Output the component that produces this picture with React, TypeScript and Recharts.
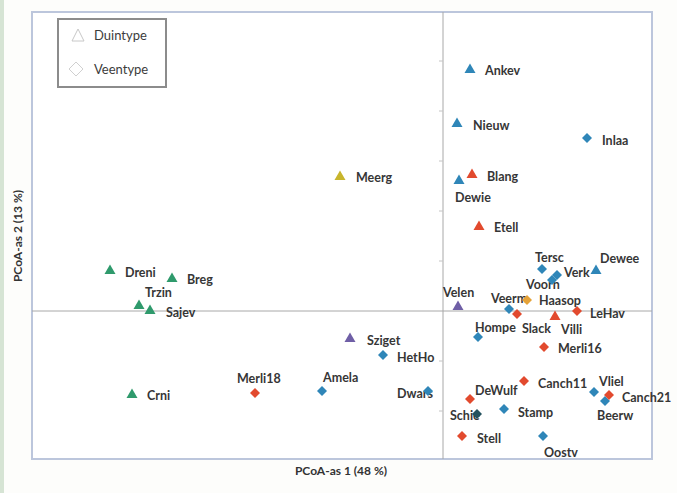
import React from "react";
import { ScatterChart, Scatter, XAxis, YAxis, ReferenceLine, ReferenceArea } from "recharts";

type Pt = { name: string; x: number; y: number };

// Duintype (triangles)
const duinGreen: Pt[] = [
  { name: "Dreni", x: -0.666, y: 0.082 },
  { name: "Breg", x: -0.542, y: 0.066 },
  { name: "Trzin", x: -0.608, y: 0.012 },
  { name: "Sajev", x: -0.586, y: 0.002 },
  { name: "Crni", x: -0.622, y: -0.166 },
];
const duinBlue: Pt[] = [
  { name: "Ankev", x: 0.054, y: 0.484 },
  { name: "Nieuw", x: 0.028, y: 0.376 },
  { name: "Dewie", x: 0.032, y: 0.262 },
  { name: "Dewee", x: 0.306, y: 0.082 },
];
const duinRed: Pt[] = [
  { name: "Blang", x: 0.058, y: 0.274 },
  { name: "Etell", x: 0.072, y: 0.17 },
  { name: "Villi", x: 0.224, y: -0.01 },
];
const duinYellow: Pt[] = [{ name: "Meerg", x: -0.206, y: 0.27 }];
const duinPurple: Pt[] = [
  { name: "Velen", x: 0.03, y: 0.01 },
  { name: "Sziget", x: -0.186, y: -0.054 },
];

// Veentype (diamonds)
const veenBlue: Pt[] = [
  { name: "Inlaa", x: 0.288, y: 0.346 },
  { name: "Tersc", x: 0.198, y: 0.084 },
  { name: "Verk", x: 0.228, y: 0.072 },
  { name: "Voorn", x: 0.218, y: 0.062 },
  { name: "Veerm", x: 0.132, y: 0.004 },
  { name: "Hompe", x: 0.07, y: -0.052 },
  { name: "HetHo", x: -0.12, y: -0.088 },
  { name: "Amela", x: -0.242, y: -0.16 },
  { name: "Dwars", x: -0.03, y: -0.16 },
  { name: "Vliel", x: 0.302, y: -0.162 },
  { name: "Beerw", x: 0.324, y: -0.18 },
  { name: "Stamp", x: 0.122, y: -0.196 },
  { name: "Oostv", x: 0.2, y: -0.25 },
];
const veenRed: Pt[] = [
  { name: "Slack", x: 0.148, y: -0.006 },
  { name: "LeHav", x: 0.268, y: 0.0 },
  { name: "Merli16", x: 0.202, y: -0.072 },
  { name: "Merli18", x: -0.376, y: -0.164 },
  { name: "Canch11", x: 0.162, y: -0.14 },
  { name: "DeWulf", x: 0.054, y: -0.176 },
  { name: "Canch21", x: 0.332, y: -0.168 },
  { name: "Stell", x: 0.038, y: -0.25 },
];
const veenOrange: Pt[] = [{ name: "Haasop", x: 0.168, y: 0.022 }];
const veenDark: Pt[] = [{ name: "Schie", x: 0.068, y: -0.206 }];

const legendItems = ["Duintype", "Veentype"];
const axisTicks = [-0.2, -0.1, 0.1, 0.2, 0.3, 0.4, 0.5];
const xTitle = "PCoA-as 1 (48 %)";
const yTitle = "PCoA-as 2 (13 %)";

// label placement (pixel offsets of label start / centre line relative to marker)
const labelPos: Record<string, [number, number]> = {
  Ankev: [15, 1], Nieuw: [16, 2], Inlaa: [15, 2], Meerg: [16, 1], Blang: [15, 2],
  Dewie: [-4, 17], Etell: [15, 1], Dreni: [15, 2], Breg: [15, 1], Trzin: [6, -13],
  Sajev: [16, 2], Crni: [15, 1], Merli18: [-18, -15], Tersc: [-7, -12], Verk: [7, -3],
  Voorn: [-26, 4], Dewee: [4, -12], Velen: [-15, -14], Veerm: [-18, -11], Haasop: [12, 0],
  Slack: [5, 14], Villi: [6, 13], LeHav: [13, 2], Hompe: [-3, -10], Merli16: [14, 1],
  Sziget: [17, 2], HetHo: [14, 2], Amela: [1, -14], Dwars: [-31, 2], Canch11: [14, 2],
  DeWulf: [5, -9], Vliel: [5, -11], Canch21: [13, 2], Beerw: [-8, 14], Schie: [-27, 1],
  Stamp: [14, 3], Stell: [15, 2], Oostv: [1, 16],
};

const FONT = "Lato, 'Open Sans', sans-serif";

const makeShape = (kind: "tri" | "dia", color: string) => (props: any) => {
  const { cx, cy, payload } = props;
  const off = labelPos[payload.name] || [12, 0];
  const marker =
    kind === "tri" ? (
      <polygon
        points={`${cx},${cy - 5.5} ${cx + 5.5},${cy + 4} ${cx - 5.5},${cy + 4}`}
        fill={color}
      />
    ) : (
      <polygon
        points={`${cx},${cy - 5} ${cx + 5},${cy} ${cx},${cy + 5} ${cx - 5},${cy}`}
        fill={color}
      />
    );
  return (
    <g>
      <text
        x={cx + off[0]}
        y={cy + off[1]}
        dominantBaseline="central"
        fontFamily={FONT}
        fontWeight={700}
        fontSize={12.5}
        fill="#363636"
      >
        {payload.name}
      </text>
      {marker}
    </g>
  );
};

const series: { data: Pt[]; kind: "tri" | "dia"; color: string }[] = [
  { data: duinGreen, kind: "tri", color: "#2f9a6c" },
  { data: duinBlue, kind: "tri", color: "#2f86b8" },
  { data: duinRed, kind: "tri", color: "#e24a2e" },
  { data: duinYellow, kind: "tri", color: "#c8b52c" },
  { data: duinPurple, kind: "tri", color: "#6f5fa6" },
  { data: veenBlue, kind: "dia", color: "#2f86b8" },
  { data: veenRed, kind: "dia", color: "#e24a2e" },
  { data: veenOrange, kind: "dia", color: "#e5a238" },
  { data: veenDark, kind: "dia", color: "#24525e" },
];

export default function App() {
  return (
    <div
      style={{
        position: "absolute",
        left: 0,
        top: 0,
        width: 677,
        height: 493,
        background: "#fdfdfb",
        overflow: "hidden",
      }}
    >
      <div style={{ position: "absolute", left: 0, top: 0, width: 4, height: 493, background: "#d6e4d4" }} />
      <ScatterChart
        width={677}
        height={493}
        margin={{ top: 12, right: 25, bottom: 34, left: 32 }}
        style={{ position: "absolute", left: 0, top: 0 }}
      >
        <XAxis type="number" dataKey="x" domain={[-0.822, 0.418]} hide />
        <YAxis type="number" dataKey="y" domain={[-0.296, 0.598]} hide />
        <ReferenceArea
          x1={-0.822}
          x2={0.418}
          y1={-0.296}
          y2={0.598}
          fill="#ffffff"
          fillOpacity={1}
          stroke="#bcc6dc"
          strokeWidth={2}
        />
        <ReferenceLine x={0} stroke="#a8a8a8" strokeWidth={1} />
        <ReferenceLine y={0} stroke="#a8a8a8" strokeWidth={1} />
        {axisTicks.map((t) => (
          <ReferenceLine
            key={t}
            segment={[
              { x: -0.008, y: t },
              { x: 0, y: t },
            ]}
            stroke="#c4c4c4"
            strokeWidth={1}
          />
        ))}
        {series.map((s, i) => (
          <Scatter
            key={i}
            data={s.data}
            isAnimationActive={false}
            shape={makeShape(s.kind, s.color)}
          />
        ))}
      </ScatterChart>
      {/* legend */}
      <div
        style={{
          position: "absolute",
          left: 57,
          top: 18,
          width: 106,
          height: 66,
          border: "2px solid #8c8c8c",
          background: "#ffffff",
          fontFamily: FONT,
          fontSize: 13,
          color: "#3c3c3c",
        }}
      >
        {legendItems.map((l, i) => (
          <div
            key={l}
            style={{ position: "absolute", left: 8, top: i === 0 ? 7 : 41, display: "flex", alignItems: "center" }}
          >
            <svg width={22} height={16}>
              {i === 0 ? (
                <polygon points="11,2 17,14 5,14" fill="none" stroke="#c8c8c8" strokeWidth={1} />
              ) : (
                <polygon points="9,1 16,8 9,15 2,8" fill="none" stroke="#d0d0d0" strokeWidth={1} />
              )}
            </svg>
            <span style={{ marginLeft: 5 }}>{l}</span>
          </div>
        ))}
      </div>
      {/* axis titles */}
      <div
        style={{
          position: "absolute",
          left: 241,
          top: 463,
          width: 200,
          textAlign: "center",
          fontFamily: FONT,
          fontWeight: 700,
          fontSize: 12,
          color: "#333",
        }}
      >
        {xTitle}
      </div>
      <div
        style={{
          position: "absolute",
          left: 18 - 100,
          top: 236 - 8,
          width: 200,
          height: 16,
          lineHeight: "16px",
          textAlign: "center",
          transform: "rotate(-90deg)",
          fontFamily: FONT,
          fontWeight: 700,
          fontSize: 12,
          color: "#333",
        }}
      >
        {yTitle}
      </div>
    </div>
  );
}
